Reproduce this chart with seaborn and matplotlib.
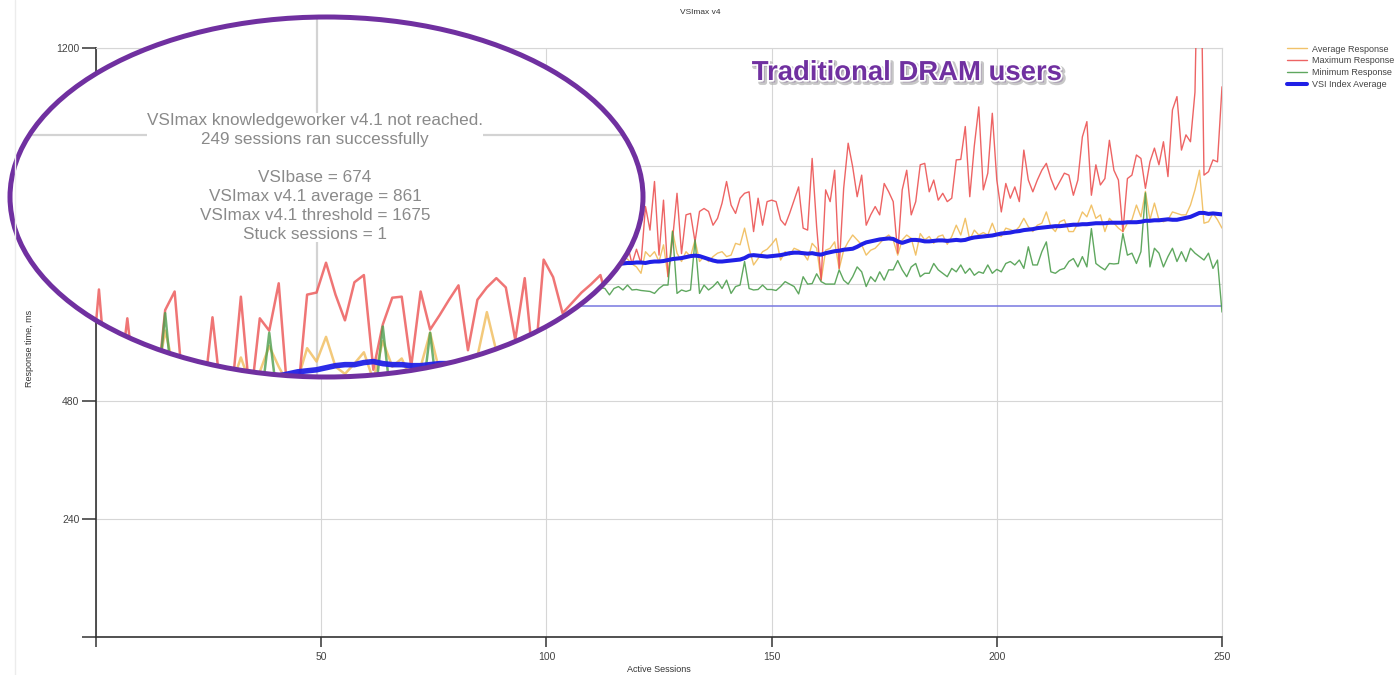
import matplotlib
matplotlib.use("Agg")
import matplotlib.pyplot as plt
import seaborn as sns
from matplotlib.patches import Ellipse
from matplotlib.lines import Line2D
import matplotlib.patheffects as pe

# ---------------- data ----------------
sessions = list(range(110, 251))

max_resp = [780, 800, 770, 790, 760, 800, 780, 770, 800, 760, 790, 761, 877, 829, 928, 778, 890, 734, 809, 904,
            781, 860, 863, 805, 867, 873, 867, 839, 853, 884, 928, 880, 863, 894, 904, 907, 826, 894, 839, 887,
            890, 887, 850, 839, 863, 890, 917, 833, 829, 975, 836, 727, 911, 887, 951, 751, 914, 1006, 958, 897,
            941, 839, 860, 877, 860, 924, 907, 887, 782, 911, 951, 860, 887, 962, 965, 907, 931, 890, 904, 887,
            894, 972, 973, 1040, 897, 1000, 1080, 911, 945, 1067, 931, 866, 924, 894, 917, 887, 992, 931, 907, 931,
            951, 965, 934, 911, 928, 945, 941, 900, 931, 1019, 1050, 900, 962, 921, 934, 1012, 951, 931, 826, 934,
            941, 982, 975, 914, 968, 996, 962, 1009, 938, 1074, 1101, 992, 1023, 1009, 1110, 1600, 941, 948, 972, 968,
            1121]

avg_resp = [770, 765, 775, 760, 770, 765, 770, 775, 770, 760, 754, 741, 785, 775, 785, 765, 799, 734, 828, 782,
            765, 785, 775, 809, 765, 775, 765, 775, 782, 785, 775, 778, 802, 799, 833, 792, 758, 771, 785, 790,
            800, 812, 768, 785, 778, 792, 788, 782, 768, 802, 792, 727, 788, 792, 805, 750, 788, 805, 819, 809,
            799, 778, 788, 792, 802, 812, 819, 809, 778, 809, 819, 812, 778, 822, 809, 816, 802, 816, 819, 800,
            816, 839, 819, 853, 809, 829, 819, 824, 819, 843, 819, 816, 833, 830, 826, 836, 853, 836, 826, 839,
            843, 866, 836, 826, 846, 850, 826, 826, 843, 866, 856, 880, 853, 860, 826, 853, 843, 833, 826, 843,
            850, 880, 856, 908, 850, 884, 850, 846, 850, 866, 863, 860, 860, 880, 911, 951, 843, 846, 863, 850,
            833]

min_resp = [705, 700, 712, 710, 697, 710, 714, 707, 717, 707, 708, 706, 705, 704, 700, 710, 717, 717, 826, 700,
            707, 704, 707, 809, 700, 717, 707, 714, 724, 710, 727, 700, 714, 717, 765, 710, 707, 708, 717, 708,
            708, 706, 714, 724, 719, 714, 699, 734, 719, 720, 740, 724, 719, 719, 719, 748, 727, 719, 734, 754,
            744, 714, 734, 724, 744, 727, 748, 748, 767, 748, 734, 754, 761, 734, 741, 741, 761, 748, 741, 734,
            751, 744, 758, 741, 751, 737, 744, 741, 758, 741, 749, 744, 761, 765, 758, 768, 751, 795, 758, 758,
            785, 805, 744, 741, 748, 751, 765, 771, 754, 775, 754, 832, 761, 754, 748, 761, 760, 761, 822, 778,
            782, 761, 785, 905, 754, 792, 782, 754, 775, 792, 765, 785, 765, 792, 782, 775, 768, 782, 751, 768,
            662]

vsi_index = [757, 758, 759, 759, 760, 761, 760, 761, 762, 762, 763, 763, 762, 764, 765, 765, 766, 768, 770, 771,
             772, 774, 776, 777, 776, 773, 770, 767, 765, 765, 766, 767, 768, 769, 772, 777, 778, 777, 776, 775,
             776, 777, 778, 780, 782, 783, 783, 782, 781, 782, 780, 779, 782, 784, 786, 787, 789, 790, 791, 795,
             800, 804, 806, 808, 810, 811, 812, 811, 806, 803, 806, 809, 809, 808, 806, 806, 807, 808, 808, 807,
             808, 809, 808, 809, 812, 814, 815, 816, 817, 818, 820, 822, 823, 824, 826, 827, 829, 830, 831, 833,
             834, 835, 836, 837, 837, 838, 839, 840, 840, 841, 841, 842, 843, 843, 843, 844, 844, 844, 844, 845,
             845, 845, 846, 848, 848, 849, 849, 850, 851, 850, 850, 852, 854, 856, 860, 864, 864, 862, 863, 862,
             861]

# magnified view shown inside the ellipse
zoom_sessions = list(range(18, 85))
zoom_max = [700, 690, 705, 700, 695, 700, 710, 700, 705, 810, 700, 705, 782, 700, 690, 700, 790, 808, 700, 690,
            700, 783, 700, 705, 803, 700, 782, 770, 816, 700, 705, 805, 807, 836, 805, 780, 817, 824, 732, 776,
            802, 803, 735, 808, 771, 785, 800, 814, 751, 800, 812, 821, 812, 761, 821, 730, 839, 822, 787, 797,
            807, 815, 824, 790, 780, 800, 790]
zoom_avg = [715, 712, 716, 714, 713, 716, 715, 712, 716, 720, 713, 715, 722, 714, 712, 716, 770, 730, 714, 712,
            716, 722, 714, 716, 744, 718, 730, 755, 735, 718, 722, 753, 740, 764, 735, 728, 738, 749, 722, 760,
            735, 743, 722, 735, 768, 730, 735, 740, 722, 745, 788, 750, 745, 728, 740, 720, 750, 745, 735, 740,
            745, 742, 748, 740, 735, 742, 738]
zoom_min = [690, 688, 692, 690, 689, 691, 690, 688, 692, 690, 689, 691, 692, 690, 688, 692, 787, 692, 690, 688,
            691, 690, 689, 692, 690, 688, 691, 768, 692, 690, 689, 691, 692, 690, 688, 691, 690, 692, 689, 774,
            691, 690, 688, 692, 768, 690, 691, 689, 692, 690, 688, 691, 690, 692, 689, 690, 691, 688, 692, 690,
            689, 691, 690, 692, 688, 690, 691]
zoom_vsi = [712, 712, 713, 713, 714, 714, 715, 715, 716, 716, 717, 717, 718, 718, 719, 719, 720, 720, 721, 721,
            722, 722, 723, 723, 724, 724, 725, 725, 726, 728, 730, 731, 732, 734, 736, 737, 737, 739, 740, 738,
            737, 737, 736, 736, 737, 738, 738, 739, 740, 740, 741, 741, 742, 742, 743, 743, 744, 744, 745, 745,
            746, 746, 747, 747, 748, 748, 749]

vsibase = 674
vsimax_average = 861
vsimax_threshold = 1675
stuck_sessions = 1
sessions_ok = 249

x_ticks = [0, 50, 100, 150, 200, 250]
x_tick_labels = ["", "50", "100", "150", "200", "250"]
y_ticks = [0, 240, 480, 720, 960, 1200]
y_tick_labels = ["", "240", "480", "720", "960", "1200"]

series_names = ["Average Response", "Maximum Response", "Minimum Response", "VSI Index Average"]
series_colors = ["#F0BC5A", "#EC5353", "#4E9E4E", "#2020E6"]

# ---------------- figure ----------------
sns.set_style("white")
plt.rcParams['font.family'] = ['Liberation Sans', 'DejaVu Sans']

W, H = 1400, 675
fig = plt.figure(figsize=(14, 6.75), dpi=100)
fig.patch.set_facecolor("white")

ax = fig.add_axes([96 / W, 1 - 637 / H, (1222 - 96) / W, (637 - 48) / H])

main_series = [avg_resp, max_resp, min_resp, vsi_index]
main_lw = [1.0, 1.0, 1.0, 2.9]
main_alpha = [0.9, 0.9, 0.9, 1.0]
for vals, name, col, lw, al in zip(main_series, series_names, series_colors, main_lw, main_alpha):
    sns.lineplot(x=sessions, y=vals, ax=ax, color=col, lw=lw, alpha=al, label=name, zorder=3)
ax.axhline(vsibase, color="#7878E0", lw=1.1, zorder=2)

ax.set_xlim(0, 250)
ax.set_ylim(0, 1200)
ax.set_xticks(x_ticks)
ax.set_xticklabels(x_tick_labels)
ax.set_yticks(y_ticks)
ax.set_yticklabels(y_tick_labels)
ax.grid(True, color="#d6d6d6", lw=0.8)
ax.tick_params(axis="y", direction="out", length=10, width=1.1, color="#333333",
               labelsize=7.5, labelcolor="#444444", pad=2, left=True)
ax.tick_params(axis="x", direction="out", length=7, width=1.1, color="#333333",
               labelsize=7.5, labelcolor="#444444", pad=4, bottom=True)
for s in ["left", "bottom"]:
    ax.spines[s].set_color("#333333")
    ax.spines[s].set_linewidth(1.2)
for s in ["top", "right"]:
    ax.spines[s].set_color("#d6d6d6")
    ax.spines[s].set_linewidth(0.8)

ax.set_xlabel("Active Sessions", fontsize=6.5, color="#333333")
ax.xaxis.set_label_coords(0.5, -(669 - 637) / 589)
ax.xaxis.label.set_va("center")
ax.set_ylabel("Response time, ms", fontsize=6.5, color="#333333")
ax.yaxis.set_label_coords((29 - 96) / 1126, 0.49)
ax.yaxis.label.set_va("center")

handles, labels = ax.get_legend_handles_labels()
if ax.get_legend() is not None:
    ax.get_legend().remove()
fig.legend(handles, labels, loc="upper left", bbox_to_anchor=(1283 / W, 1 - 41 / H),
           frameon=False, fontsize=6.5, handlelength=2.3, labelspacing=0.3,
           handletextpad=0.5, borderaxespad=0, labelcolor="#444444")

fig.text(700 / W, 1 - 13 / H, "VSImax v4", fontsize=6, color="#333333", ha="center", va="center")

# faint screenshot border
fig.add_artist(Line2D([15 / W, 15 / W], [0, 1], transform=fig.transFigure, color="#ececec", lw=1))

# ---------------- magnifier ellipse ----------------
ex0, ey0, ew, eh = 10, 17, 633, 360
ax_in = fig.add_axes([ex0 / W, 1 - (ey0 + eh) / H, ew / W, eh / H])
ax_in.set_xlim(17.6, 84.5)
ax_in.set_ylim(725, 1074.6)
ax_in.axis("off")

bg = Ellipse((0.5, 0.5), 1, 1, transform=ax_in.transAxes, facecolor="white", edgecolor="none", zorder=0)
ax_in.add_patch(bg)
clip = Ellipse((0.5, 0.5), 1, 1, transform=ax_in.transAxes, facecolor="none", edgecolor="none")
ax_in.add_patch(clip)

ax_in.axvline(50, color="#d3d3d3", lw=1.6, zorder=1)
ax_in.axhline(960, color="#d3d3d3", lw=1.6, zorder=1)

zoom_series = [zoom_avg, zoom_max, zoom_min, zoom_vsi]
zoom_lw = [1.8, 1.8, 1.8, 4.0]
zoom_alpha = [0.8, 0.8, 0.8, 0.95]
for vals, col, lw, al in zip(zoom_series, series_colors, zoom_lw, zoom_alpha):
    sns.lineplot(x=zoom_sessions, y=vals, ax=ax_in, color=col, lw=lw, alpha=al, legend=False, zorder=3)
for ln in ax_in.lines:
    ln.set_clip_path(clip)

info = (f"VSImax knowledgeworker v4.1 not reached.\n"
        f"{sessions_ok} sessions ran successfully\n\n"
        f"VSIbase = {vsibase}\n"
        f"VSImax v4.1 average = {vsimax_average}\n"
        f"VSImax v4.1 threshold = {vsimax_threshold}\n"
        f"Stuck sessions = {stuck_sessions}")
ax_in.text((315 - ex0) / ew, 1 - (177.5 - ey0) / eh, info, transform=ax_in.transAxes,
           ha="center", va="center", fontsize=12.3, color="#8a8a8a", linespacing=1.34,
           bbox=dict(facecolor="white", edgecolor="none", pad=0), zorder=5)

border = Ellipse((0.5, 0.5), 1, 1, transform=ax_in.transAxes, facecolor="none",
                 edgecolor="#7030A0", lw=3.6, zorder=10, clip_on=False)
ax_in.add_patch(border)

# ---------------- annotation ----------------
fig.text(907 / W, 1 - 73 / H, "Traditional DRAM users", fontsize=19.8, fontweight="bold",
         color="#7030A0", ha="center", va="center",
         path_effects=[pe.Stroke(offset=(1.8, -1.8), linewidth=3.5, foreground="#b0b0b0", alpha=0.7),
                       pe.Stroke(linewidth=2.5, foreground="white"), pe.Normal()])

fig.savefig("out.png", dpi=100, facecolor="white")
